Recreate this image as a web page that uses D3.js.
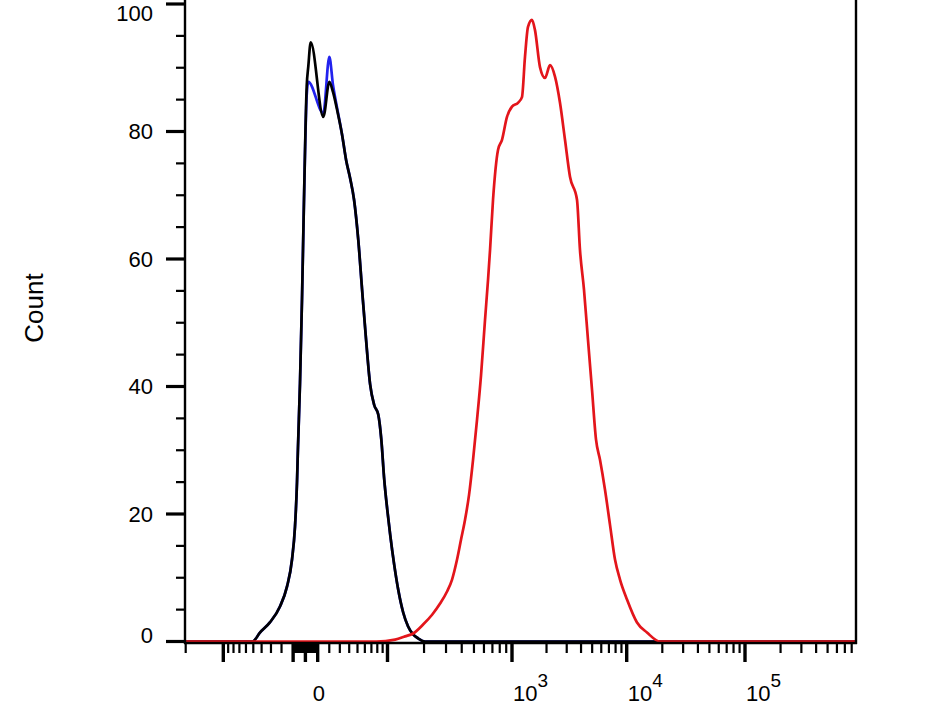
<!DOCTYPE html>
<html><head><meta charset="utf-8">
<script src="https://cdn.jsdelivr.net/npm/d3@7"></script>
<style>
body{margin:0;background:#fff;}
svg{display:block;}
text{font-family:"Liberation Sans",Arial,Helvetica,sans-serif;fill:#000;}
</style>
</head><body>
<svg id="chart" width="940" height="705"></svg>
<script>
// ---------------- data ----------------
// Control (black) histogram: fluorescence intensity / count
const blackIntensity = [-200,-50.8,-41.9,-31.1,-21.4,-15.2,-10.9,-8.46,-6.82,-6.0,-4.37,-2.75,-1.13,1.05,2.35,4.29,14.77,20.06,23.4,27.3,32.3,36.6,41.0,45.7,51.0,56.1,61.8,68.0,74.6,81.7,87.4,93.2,99.5,105.3,113.8,123.0,135.3,148.5,163.1,179,204,870000];
const blackCount     = [0,0,1.4,3.0,5.5,8.6,12.9,18.0,24.9,30.5,40.5,53.6,69.3,87.1,90.2,94.0,82.3,87.8,86.2,83.4,79.5,75.5,72.7,69.3,63.0,55.2,47.3,40.3,37.1,35.6,31.7,25.4,20.7,16.8,12.1,8.15,4.55,2.35,1.1,0.5,0,0];
// Control (blue) histogram
const blueIntensity = [-200,-50.8,-41.9,-31.1,-21.4,-15.2,-10.9,-8.46,-6.82,-6.0,-4.37,-2.75,-1.13,1.05,2.35,14.77,20.06,23.4,27.3,32.3,36.6,41.0,45.7,51.0,56.1,61.8,68.0,74.6,81.7,87.4,93.2,99.5,105.3,113.8,123.0,135.3,148.5,163.1,179,204,870000];
const blueCount     = [0,0,1.4,3.0,5.5,8.6,12.9,18.0,24.9,30.5,40.5,53.6,69.3,85.7,87.8,82.9,91.7,87.3,83.7,79.5,75.5,72.7,69.3,63.0,55.2,47.3,40.3,37.1,35.6,31.7,25.4,20.7,16.8,12.1,8.15,4.55,2.35,1.1,0.5,0,0];
// Stained sample (red) histogram
const redIntensity = [-200,78,116,140.3,163.1,196.5,232.1,268.9,305.7,335.1,367.1,395,424.9,457.1,491.7,528.9,569,612,646.1,670.3,707.9,775.2,833.5,912.9,1000,1128,1222,1298,1379,1494,1587,1754,1940,2145,2371,2621,2898,3204,3687,3916,4243,4598,4983,5399,5851,6469,7153,7907,8742,10060,12220,14840,19120,870000];
const redCount     = [0,0,0.3,0.8,1.25,2.66,4.2,5.96,7.84,9.72,12.85,16.0,19.1,23.0,28.5,34.8,41.8,50.5,56.7,61.4,69.3,77.1,78.7,82.3,83.9,84.5,85.4,91.7,96.4,97.5,95.9,90.1,88.4,90.4,88.6,84.5,78.7,72.9,69.3,61.4,55.2,47.3,39.5,31.7,28.5,23.8,18.3,12.85,9.72,6.58,2.98,1.41,0,0];

// axis ticks / labels
const yMajorTicks = [0,20,40,60,80,100];
const yMinorTicks = [5,10,15,25,30,35,45,50,55,65,70,75,85,90,95];
const xMajorTicks = [-100,-10,0,10,100,1000,10000,100000];
const xMinorMultipliers = [2,3,4,5,6,7,8,9];
const xMinorDecades = [1,10,100,1000,10000,100000];
const xLabelValues = [0,1000,10000,100000];
const xLabelBase = ["0","10","10","10"];
const xLabelExp = ["","3","4","5"];
const yAxisTitle = "Count";

// ---------------- scales ----------------
const cof = 40.5;
const biex = v => Math.asinh(v / cof);
const xAnchors = [-200,-100,0,100,1000,10000,100000,870000];
const xAnchorPx = [185.7,223.3,305.4,387.5,512,626.7,745,856];
const xLin = d3.scaleLinear().domain(xAnchors.map(biex)).range(xAnchorPx);
const x = v => xLin(biex(v));
const y = d3.scaleLinear().domain([0,100]).range([641.5,4]);

const svg = d3.select("#chart");

// series
const series = [
  {xs: blueIntensity, ys: blueCount, color: "#2222ee"},
  {xs: blackIntensity, ys: blackCount, color: "#000000"},
  {xs: redIntensity, ys: redCount, color: "#e3151b"}
];
const line = d3.line().x(d => x(d[0])).y(d => y(d[1])).curve(d3.curveMonotoneX);
series.forEach(s => {
  svg.append("path")
    .datum(d3.zip(s.xs, s.ys))
    .attr("d", line)
    .attr("fill","none")
    .attr("stroke", s.color)
    .attr("stroke-width", 2.7)
    .attr("stroke-linejoin","round");
});

// frame / axes lines
const axisG = svg.append("g").attr("stroke","#000");
axisG.append("line").attr("x1",184).attr("x2",857).attr("y1",643).attr("y2",643).attr("stroke-width",2.4);
axisG.append("line").attr("x1",185).attr("x2",185).attr("y1",-10).attr("y2",644).attr("stroke-width",2.4);
axisG.append("line").attr("x1",856).attr("x2",856).attr("y1",-10).attr("y2",644).attr("stroke-width",2.4);

// y ticks
yMajorTicks.forEach(v => {
  axisG.append("line").attr("x1",166).attr("x2",185).attr("y1",y(v)).attr("y2",y(v)).attr("stroke-width",3.2);
});
yMinorTicks.forEach(v => {
  axisG.append("line").attr("x1",176).attr("x2",185).attr("y1",y(v)).attr("y2",y(v)).attr("stroke-width",2.2);
});
svg.selectAll("text.ylab").data(yMajorTicks).enter().append("text")
  .attr("class","ylab")
  .attr("x",153)
  .attr("y", v => v === 0 ? y(v) - 6 : (v === 100 ? y(v) + 9 : y(v)))
  .attr("text-anchor","end")
  .attr("dominant-baseline","central")
  .attr("font-size",22)
  .text(v => v);

// x ticks
const xMinorTicks = [-200];
xMinorDecades.forEach(d => xMinorMultipliers.forEach(m => {
  const v = d * m;
  if (v <= 870000) xMinorTicks.push(v);
  if (d <= 10) xMinorTicks.push(-v);
}));
[1,2,3,4,5,6,7,8,9].forEach(m => { xMinorTicks.push(m); xMinorTicks.push(-m); });
xMinorTicks.forEach(v => {
  axisG.append("line").attr("x1",x(v)).attr("x2",x(v)).attr("y1",643).attr("y2",653).attr("stroke-width",2.2);
});
xMajorTicks.forEach(v => {
  axisG.append("line").attr("x1",x(v)).attr("x2",x(v)).attr("y1",643).attr("y2",662).attr("stroke-width",3.4);
});

// x labels
xLabelValues.forEach((v,i) => {
  const t = svg.append("text").attr("font-size",22).attr("y",701);
  if (xLabelExp[i] === "") {
    t.attr("x", x(v) + 13.5).attr("text-anchor","middle").text(xLabelBase[i]);
  } else {
    t.attr("x", x(v) + 1).attr("text-anchor","start");
    t.append("tspan").text(xLabelBase[i]);
    t.append("tspan").attr("font-size",19).attr("dy",-14).text(xLabelExp[i]);
  }
});

// y title
svg.append("text")
  .attr("transform","translate(43,308) rotate(-90)")
  .attr("text-anchor","middle")
  .attr("font-size",26)
  .text(yAxisTitle);
</script>
</body></html>
